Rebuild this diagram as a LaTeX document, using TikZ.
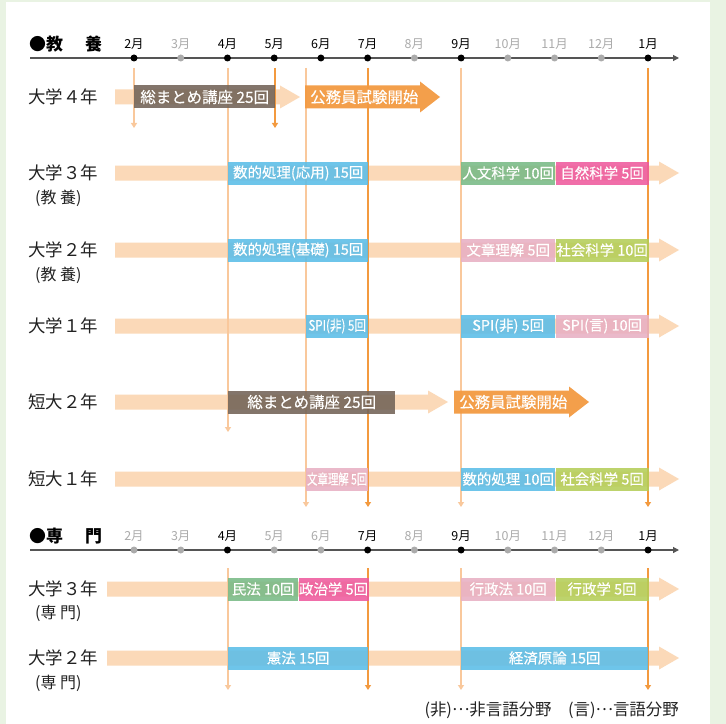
\documentclass[tikz,border=0pt]{standalone}
\usepackage{fontspec}
\setmainfont{Noto Sans CJK JP}
\newfontfamily\boxfont{Noto Sans CJK JP}[FakeBold=0.3]
\usetikzlibrary{positioning,arrows.meta}

\definecolor{bggreen}{HTML}{E9F3E3}
\definecolor{peach}{HTML}{FBD9B8}
\definecolor{lineLt}{HTML}{F9C89C}
\definecolor{lineDk}{HTML}{F39A3F}
\definecolor{brownbox}{HTML}{726357}
\definecolor{examorange}{HTML}{F39A42}
\definecolor{bluebox}{HTML}{5BBDE8}
\definecolor{greenbox}{HTML}{78BA86}
\definecolor{magbox}{HTML}{EE5A9E}
\definecolor{pinkbox}{HTML}{E8B0C3}
\definecolor{limebox}{HTML}{B4CE58}
\definecolor{axisgray}{HTML}{555555}
\definecolor{mongray}{HTML}{ABABAB}
\definecolor{ink}{HTML}{222222}

\tikzset{
  box/.style={anchor=west, inner sep=0pt, minimum height=23bp, text=white,
    font=\boxfont\fontsize{14.5}{14.5}\selectfont, fill opacity=0.88, text opacity=1},
  bigbox/.style={box, font=\boxfont\fontsize{15.5}{15.5}\selectfont},
  examtxt/.style={anchor=west, inner sep=0pt, text=white, font=\boxfont\fontsize{15.5}{15.5}\selectfont},
  rowlbl/.style={anchor=west, inner sep=0pt, text=ink, font=\fontsize{17.5}{17.5}\selectfont},
  sublbl/.style={anchor=west, inner sep=0pt, text=ink, font=\fontsize{16}{16}\selectfont},
  head/.style={anchor=west, inner sep=0pt, text=black, font=\fontsize{17}{17}\selectfont\bfseries},
  mon/.style={inner sep=0pt, font=\fontsize{12.5}{12.5}\selectfont},
  dot/.style={circle, inner sep=0pt, minimum size=7bp},
  vline/.style={line width=1.3bp, -{Triangle[width=6bp,length=5bp]}},
  axis/.style={axisgray, line width=1.2bp, -{Triangle[width=6bp,length=6bp]}, shorten >=-1bp},
}

% peach arrow bar: y, x start, x tip
\newcommand\peachbar[3]{%
  \fill[peach] (#2,#1-7.5) -- (#3-20,#1-7.5) -- (#3-20,#1-11.5) -- (#3,#1)
    -- (#3-20,#1+11.5) -- (#3-20,#1+7.5) -- (#2,#1+7.5) -- cycle;}
% orange exam arrow: y, x start, x tip
\newcommand\examarrow[3]{%
  \fill[examorange, fill opacity=0.95] (#2,#1-11.5) -- (#3-20,#1-11.5) -- (#3-20,#1-15.5) -- (#3,#1)
    -- (#3-20,#1+15.5) -- (#3-20,#1+11.5) -- (#2,#1+11.5) -- cycle;}
\newcommand\midell{\raisebox{0.3em}{…}}

\begin{document}
\begin{tikzpicture}[x=1bp, y=-1bp]
\useasboundingbox (0,0) rectangle (726,724);
\fill[bggreen] (0,0) rectangle (726,724);
\fill[white] (6,2) rectangle (710,724);

% ---- timeline (kyouyou)
\draw[axis] (30,58) -- (678,58);
\node[head] (hd1) at (29,44) {●教\hskip 1.3em 養};
\foreach \m/\c [count=\i from 0] in {2/black,3/mongray,4/black,5/black,6/black,7/black,8/mongray,9/black,10/mongray,11/mongray,12/mongray,1/black}{
  \node[dot, fill=\c] (a\i) at (134+\i*46.73,58) {};
  \node[mon, text=\c] (ma\i) at (134+\i*46.73,44) {\m 月};
}

% ---- timeline (senmon)
\draw[axis] (30,550) -- (678,550);
\node[head] (hd2) at (29,536) {●専\hskip 1.3em 門};
\foreach \m/\c [count=\i from 0] in {2/mongray,3/mongray,4/black,5/mongray,6/mongray,7/black,8/mongray,9/black,10/mongray,11/mongray,12/mongray,1/black}{
  \node[dot, fill=\c] (b\i) at (134+\i*46.73,550) {};
  \node[mon, text=\c] (mb\i) at (134+\i*46.73,536) {\m 月};
}

% ---- row labels
\node[rowlbl] (r1) at (28,97) {大学４年};
\node[rowlbl] (r2) at (28,173) {大学３年};
\node[sublbl] (r2s) at (35,198) {(教 養)};
\node[rowlbl] (r3) at (28,250) {大学２年};
\node[sublbl] (r3s) at (35,275) {(教 養)};
\node[rowlbl] (r4) at (28,326) {大学１年};
\node[rowlbl] (r5) at (28,402) {短大２年};
\node[rowlbl] (r6) at (28,479) {短大１年};
\node[rowlbl] (r7) at (28,589) {大学３年};
\node[sublbl] (r7s) at (35,613) {(専 門)};
\node[rowlbl] (r8) at (28,658) {大学２年};
\node[sublbl] (r8s) at (35,683) {(専 門)};

% ---- bars
\peachbar{97}{115}{300}
\peachbar{173}{115}{679}
\peachbar{250}{115}{679}
\peachbar{326}{115}{679}
\peachbar{402}{115}{448}
\peachbar{479}{115}{679}
\peachbar{589}{107}{679}
\peachbar{658}{107}{679}

% ---- month lines
\foreach \x/\yb/\c in {134/128/lineLt, 275/128/lineDk, 228/432/lineLt, 306/507/lineLt,
    368/507/lineDk, 461/507/lineLt, 648/507/lineDk}
  \draw[vline, \c] (\x,68) -- (\x,\yb);
\foreach \x/\c in {228/lineLt, 368/lineDk, 461/lineLt, 648/lineDk}
  \draw[vline, \c] (\x,568) -- (\x,690);

% ---- exam arrows
\examarrow{97}{305}{440}
\node[examtxt] (ex1) at (310,97) {公務員試験開始};
\examarrow{402}{454}{589}
\node[examtxt] (ex2) at (459,402) {公務員試験開始};

% ---- boxes
\node[bigbox, fill=brownbox, minimum width=141bp] (c1) at (134,97) {総まとめ講座 25回};

\node[box, fill=bluebox, minimum width=140bp] (c2a) at (228,173) {数的処理(応用) 15回};
\node[box, fill=greenbox, minimum width=94bp] (c2b) at (461,173) {人文科学 10回};
\node[box, fill=magbox, minimum width=93bp, right=0pt of c2b] (c2c) {自然科学 5回};

\node[box, fill=bluebox, minimum width=140bp] (c3a) at (228,250) {数的処理(基礎) 15回};
\node[box, fill=pinkbox, minimum width=94bp] (c3b) at (461,250) {文章理解 5回};
\node[box, fill=limebox, minimum width=93bp, right=0pt of c3b] (c3c) {社会科学 10回};

\node[box, fill=bluebox, minimum width=62bp] (c4a) at (306,326) {\scalebox{0.8}[1]{SPI(非) 5回}};
\node[box, fill=bluebox, minimum width=94bp] (c4b) at (461,326) {SPI(非) 5回};
\node[box, fill=pinkbox, minimum width=93bp, right=0pt of c4b] (c4c) {SPI(言) 10回};

\node[bigbox, fill=brownbox, minimum width=167bp] (c5) at (228,402) {総まとめ講座 25回};

\node[box, fill=pinkbox, minimum width=62bp] (c6a) at (306,479) {\scalebox{0.72}[1]{文章理解 5回}};
\node[box, fill=bluebox, minimum width=94bp] (c6b) at (461,479) {数的処理 10回};
\node[box, fill=limebox, minimum width=93bp, right=0pt of c6b] (c6c) {社会科学 5回};

\node[box, fill=greenbox, minimum width=70bp] (c7a) at (228,589) {民法 10回};
\node[box, fill=magbox, minimum width=70bp, right=0pt of c7a] (c7b) {政治学 5回};
\node[box, fill=pinkbox, minimum width=94bp] (c7c) at (461,589) {行政法 10回};
\node[box, fill=limebox, minimum width=93bp, right=0pt of c7c] (c7d) {行政学 5回};

\node[box, fill=bluebox, minimum width=140bp] (c8a) at (228,658) {憲法 15回};
\node[box, fill=bluebox, minimum width=187bp] (c8b) at (461,658) {経済原論 15回};

% ---- note
\node[anchor=east, inner sep=0pt, text=ink, font=\fontsize{16.5}{16.5}\selectfont] (note) at (679,710) {(非)\midell 非言語分野\hskip 1em(言)\midell 言語分野};
\end{tikzpicture}
\end{document}
